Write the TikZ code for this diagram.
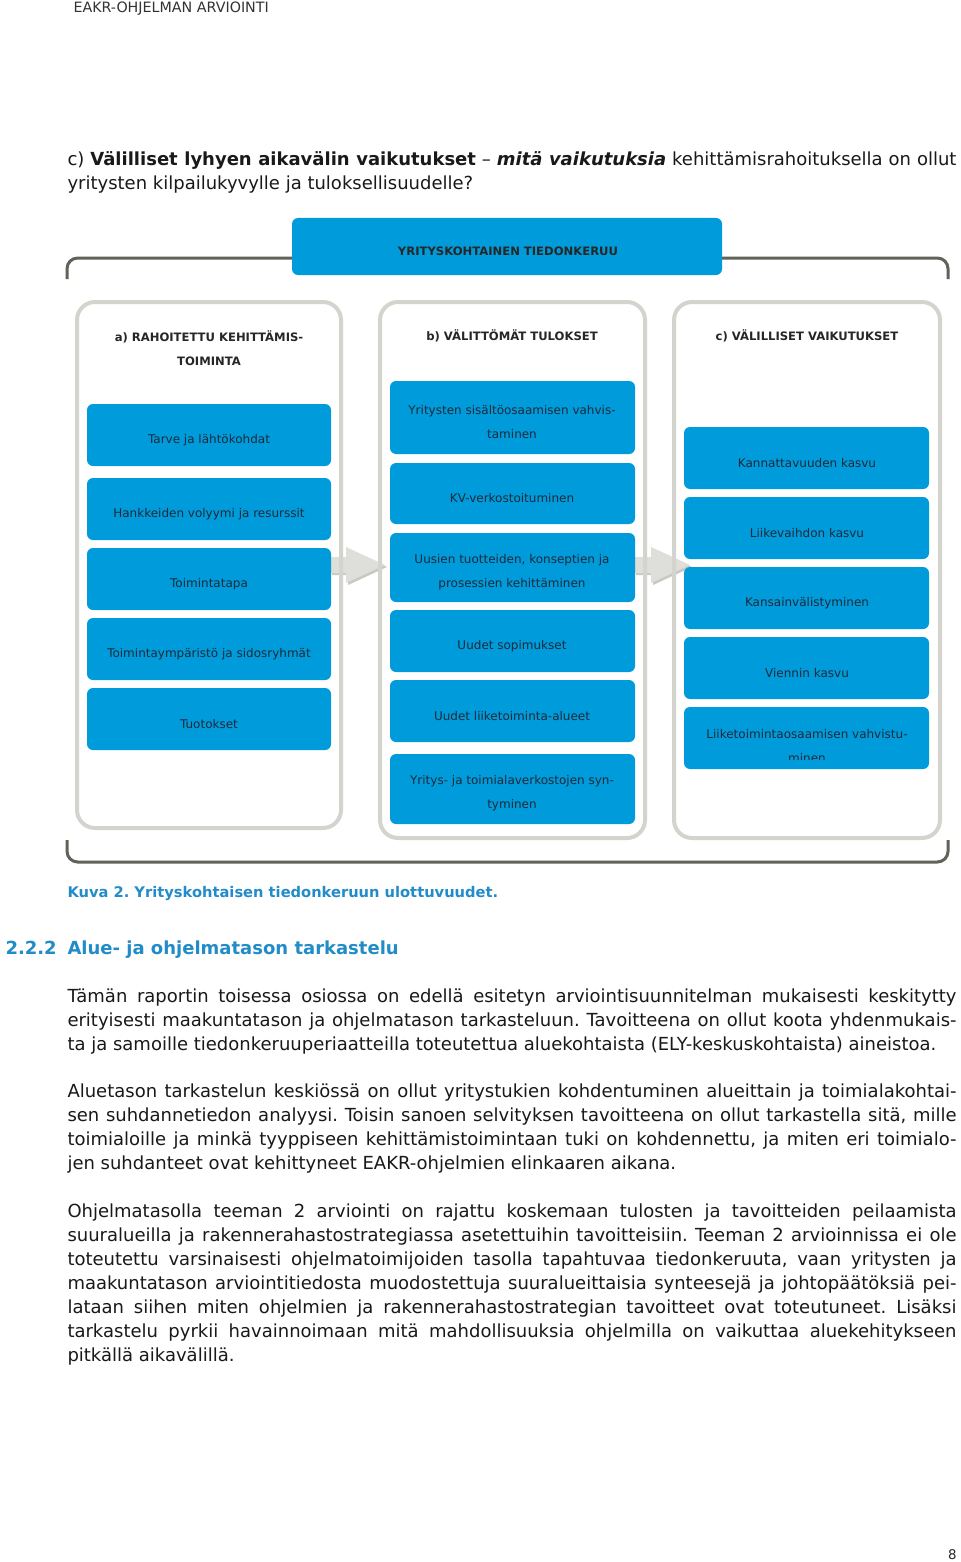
\documentclass[tikz,border=0pt]{standalone}
\usepackage{fontspec}
\setmainfont{DejaVu Sans}
\frenchspacing
\definecolor{boxblue}{RGB}{0,155,219}
\definecolor{boxtext}{RGB}{28,42,58}
\definecolor{headblue}{RGB}{34,140,200}
\definecolor{bracketgray}{RGB}{95,99,88}
\definecolor{panelgray}{RGB}{212,212,206}
\definecolor{arrowgray}{RGB}{222,222,218}
\definecolor{arrowshade}{RGB}{200,200,196}
\newcommand{\jline}[1]{\makebox[666.75pt][s]{#1}}

\tikzset{every picture/.style={line width=0.75pt}}
\tikzset{
  bluebox/.style={fill=boxblue, rounded corners=4.5pt},
  panel/.style={draw=panelgray, line width=3pt, rounded corners=13.5pt},
  bracket/.style={draw=bracketgray, line width=2.25pt, rounded corners=8pt},
  boxlabel/.style={inner sep=0.75pt, align=center, text=boxtext, font=\fontsize{9}{18}\selectfont},
  headlabel/.style={inner sep=0.75pt, align=center, text=black!85, font=\fontsize{8.7}{18}\selectfont\bfseries},
  bodyline/.style={anchor=base west, inner sep=0pt, text=black!90, font=\fontsize{13.5}{18}\selectfont},
  bluehead/.style={anchor=base west, inner sep=0pt, text=headblue, font=\fontsize{13.5}{18}\selectfont\bfseries},
}

\begin{document}
\begin{tikzpicture}[x=0.75pt,y=0.75pt,yscale=-1,xscale=1]
\useasboundingbox (0,0) rectangle (960,1562);
\fill [white] (0,0) rectangle (960,1562);

% Text Node
\node [anchor=base west, inner sep=0pt, text=black!80, font=\fontsize{10.7}{12}\selectfont] (header) at (73,13) {EAKR-OHJELMAN ARVIOINTI};

% Text Node
\node [bodyline] (q1) at (67,166) {\jline{c) \textbf{Välilliset lyhyen aikavälin vaikutukset} – \textbf{\textit{mitä vaikutuksia}} kehittämisrahoituksella on ollut}};
\node [bodyline] (q2) at (67,190) {yritysten kilpailukyvylle ja tuloksellisuudelle?};

%Brackets
\draw [bracket] (67,279) -- (67,258) -- (948,258) -- (948,279) ;
\draw [bracket] (67,840) -- (67,862) -- (948,862) -- (948,840) ;

%Shape: Top box
\fill [bluebox] (292,218) rectangle (722,275) ;
\node [headlabel] (top) at (508,251) {YRITYSKOHTAINEN TIEDONKERUU};

%Shape: Panels
\fill [white] (77,302) rectangle (341,828) ;
\fill [white] (380,302) rectangle (645,838) ;
\fill [white] (674,302) rectangle (940,838) ;

%Shape: Arrows
\fill [arrowshade] (332,559) -- (348,559) -- (348,549) -- (387,567) -- (348,585) -- (348,575) -- (332,575) -- cycle ;
\fill [arrowgray] (330,557) -- (346,557) -- (346,547) -- (385,565) -- (346,583) -- (346,573) -- (330,573) -- cycle ;
\fill [arrowshade] (636,559) -- (653,559) -- (653,549) -- (692,567) -- (653,585) -- (653,575) -- (636,575) -- cycle ;
\fill [arrowgray] (634,557) -- (651,557) -- (651,547) -- (690,565) -- (651,583) -- (651,573) -- (634,573) -- cycle ;

\draw [panel] (77,302) rectangle (341,828) ;
\draw [panel] (380,302) rectangle (645,838) ;
\draw [panel] (674,302) rectangle (940,838) ;

% Text Node
\node [headlabel] (heada) at (209,348) {a) RAHOITETTU KEHITTÄMIS-\\TOIMINTA};
\node [headlabel] (headb) at (512,336) {b) VÄLITTÖMÄT TULOKSET};
\node [headlabel] (headc) at (807,336) {c) VÄLILLISET VAIKUTUKSET};

%Column a
\fill [bluebox] (87,404) rectangle (331,466) ;
\node [boxlabel] (tarve) at (209,440) {Tarve ja lähtökohdat};
\fill [bluebox] (87,478) rectangle (331,540) ;
\node [boxlabel] (volyymi) at (209,514) {Hankkeiden volyymi ja resurssit};
\fill [bluebox] (87,548) rectangle (331,610) ;
\node [boxlabel] (tapa) at (209,584) {Toimintatapa};
\fill [bluebox] (87,618) rectangle (331,680) ;
\node [boxlabel] (ymparisto) at (209,654) {Toimintaympäristö ja sidosryhmät};
\fill [bluebox] (87,688) rectangle (331,750) ;
\node [boxlabel] (tuotokset) at (209,724) {Tuotokset};

%Column b
\fill [bluebox] (390,381) rectangle (635,454) ;
\node [boxlabel] (sisalto) at (512,422) {Yritysten sisältöosaamisen vahvis-\\taminen};
\fill [bluebox] (390,463) rectangle (635,524) ;
\node [boxlabel] (kv) at (512,498) {KV-verkostoituminen};
\fill [bluebox] (390,533) rectangle (635,602) ;
\node [boxlabel] (tuotteet) at (512,572) {Uusien tuotteiden, konseptien ja\\prosessien kehittäminen};
\fill [bluebox] (390,610) rectangle (635,672) ;
\node [boxlabel] (sopimukset) at (512,646) {Uudet sopimukset};
\fill [bluebox] (390,680) rectangle (635,742) ;
\node [boxlabel] (alueet) at (512,716) {Uudet liiketoiminta-alueet};
\fill [bluebox] (390,754) rectangle (635,824) ;
\node [boxlabel] (verkostot) at (512,793) {Yritys- ja toimialaverkostojen syn-\\tyminen};

%Column c
\fill [bluebox] (684,427) rectangle (929,489) ;
\node [boxlabel] (kannattavuus) at (807,463) {Kannattavuuden kasvu};
\fill [bluebox] (684,497) rectangle (929,559) ;
\node [boxlabel] (liikevaihto) at (807,533) {Liikevaihdon kasvu};
\fill [bluebox] (684,567) rectangle (929,629) ;
\node [boxlabel] (kv2) at (807,603) {Kansainvälistyminen};
\fill [bluebox] (684,637) rectangle (929,699) ;
\node [boxlabel] (vienti) at (807,673) {Viennin kasvu};
\fill [bluebox] (684,707) rectangle (929,769) ;
\begin{scope}
\clip (684,707) rectangle (929,759) ;
\node [boxlabel] (osaaminen) at (807,746) {Liiketoimintaosaamisen vahvistu-\\minen};
\end{scope}

% Text Node
\node [anchor=base west, inner sep=0pt, text=headblue, font=\fontsize{11}{14}\selectfont\bfseries] (kuva) at (67,897) {Kuva 2. Yrityskohtaisen tiedonkeruun ulottuvuudet.};
\node [bluehead] (num) at (5,954) {2.2.2};
\node [bluehead] (otsikko) at (67,954) {Alue- ja ohjelmatason tarkastelu};

% Text Node
\node [bodyline] (p1a) at (67,1002) {\jline{Tämän raportin toisessa osiossa on edellä esitetyn arviointisuunnitelman mukaisesti keskitytty}};
\node [bodyline] (p1b) at (67,1026) {\jline{erityisesti maakuntatason ja ohjelmatason tarkasteluun. Tavoitteena on ollut koota yhdenmukais-}};
\node [bodyline] (p1c) at (67,1050) {ta ja samoille tiedonkeruuperiaatteilla toteutettua aluekohtaista (ELY-keskuskohtaista) aineistoa.};

% Text Node
\node [bodyline] (p2a) at (67,1097) {\jline{Aluetason tarkastelun keskiössä on ollut yritystukien kohdentuminen alueittain ja toimialakohtai-}};
\node [bodyline] (p2b) at (67,1121) {\jline{sen suhdannetiedon analyysi. Toisin sanoen selvityksen tavoitteena on ollut tarkastella sitä, mille}};
\node [bodyline] (p2c) at (67,1145) {\jline{toimialoille ja minkä tyyppiseen kehittämistoimintaan tuki on kohdennettu, ja miten eri toimialo-}};
\node [bodyline] (p2d) at (67,1169) {jen suhdanteet ovat kehittyneet EAKR-ohjelmien elinkaaren aikana.};

% Text Node
\node [bodyline] (p3a) at (67,1217) {\jline{Ohjelmatasolla teeman 2 arviointi on rajattu koskemaan tulosten ja tavoitteiden peilaamista}};
\node [bodyline] (p3b) at (67,1241) {\jline{suuralueilla ja rakennerahastostrategiassa asetettuihin tavoitteisiin. Teeman 2 arvioinnissa ei ole}};
\node [bodyline] (p3c) at (67,1265) {\jline{toteutettu varsinaisesti ohjelmatoimijoiden tasolla tapahtuvaa tiedonkeruuta, vaan yritysten ja}};
\node [bodyline] (p3d) at (67,1289) {\jline{maakuntatason arviointitiedosta muodostettuja suuralueittaisia synteesejä ja johtopäätöksiä pei-}};
\node [bodyline] (p3e) at (67,1313) {\jline{lataan siihen miten ohjelmien ja rakennerahastostrategian tavoitteet ovat toteutuneet. Lisäksi}};
\node [bodyline] (p3f) at (67,1337) {\jline{tarkastelu pyrkii havainnoimaan mitä mahdollisuuksia ohjelmilla on vaikuttaa aluekehitykseen}};
\node [bodyline] (p3g) at (67,1361) {pitkällä aikavälillä.};

% Text Node
\node [anchor=base east, inner sep=0pt, text=black!85, font=\fontsize{10}{12}\selectfont] (sivu) at (957,1559) {8};

\end{tikzpicture}
\end{document}
